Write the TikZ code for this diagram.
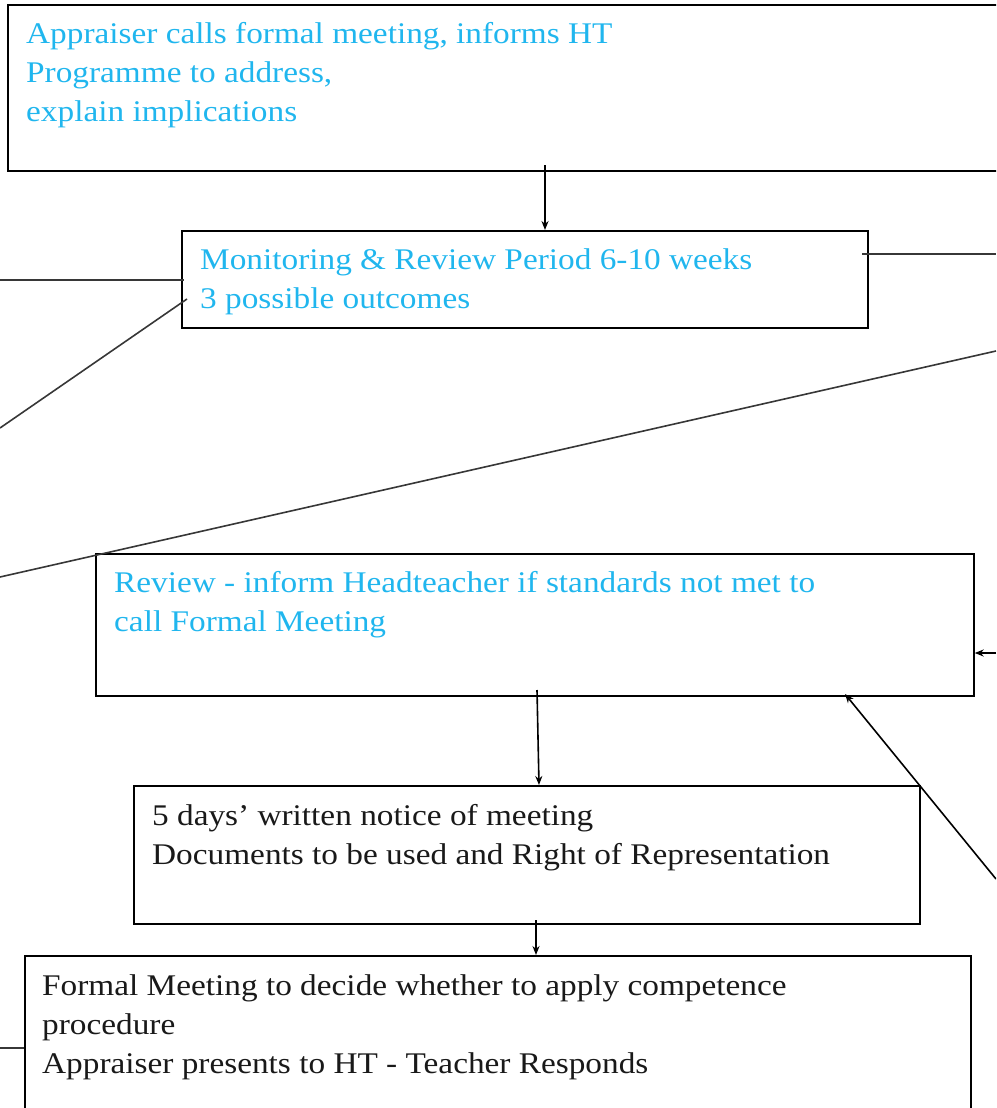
\documentclass[tikz,border=0pt]{standalone}
\usepackage{fontspec}
\setmainfont[FakeStretch=1.11]{Liberation Serif}
\usetikzlibrary{arrows.meta}
\definecolor{bluetxt}{RGB}{32,182,238}
\definecolor{blacktxt}{RGB}{25,25,25}
\definecolor{linegray}{RGB}{55,55,55}
\tikzset{
  box/.style={draw=black, line width=1.7pt, rectangle, inner sep=0pt, anchor=north west},
  txt/.style={inner sep=0pt, anchor=north west, align=left, font=\fontsize{30}{39}\selectfont},
  bluet/.style={txt, text=bluetxt},
  blackt/.style={txt, text=blacktxt},
  conn/.style={draw=linegray, line width=1.6pt},
  arr/.style={conn, draw=black, -{Stealth[length=9pt,width=7pt]}}
}
\begin{document}
\begin{tikzpicture}[x=1pt,y=-1pt]
\clip (0,0) rectangle (996,1108);
% boxes
\node[box, minimum width=1060pt, minimum height=166pt] (b1) at (7,4) {};
\node[box, minimum width=686pt, minimum height=97pt] (b2) at (181,230) {};
\node[box, minimum width=878pt, minimum height=142pt] (b3) at (95,553) {};
\node[box, minimum width=786pt, minimum height=138pt] (b4) at (133,785) {};
\node[box, minimum width=946pt, minimum height=200pt] (b5) at (24,955) {};
% texts
\node[bluet] (t1) at (26,22) {Appraiser calls formal meeting, informs HT\\Programme to address,\\explain implications};
\node[bluet] (t2) at (200,248) {Monitoring \& Review Period 6-10 weeks\\3 possible outcomes};
\node[bluet] (t3) at (114,571) {Review - inform Headteacher if standards not met to\\call Formal Meeting};
\node[blackt] (t4) at (152,804) {5 days’ written notice of meeting\\Documents to be used and Right of Representation};
\node[blackt] (t5) at (42,974) {Formal Meeting to decide whether to apply competence\\procedure\\Appraiser presents to HT - Teacher Responds};
% free ends
\coordinate (c1s) at (545,165);
\coordinate (lA) at (0,280);
\coordinate (lAe) at (184,280);
\coordinate (lB) at (0,428);
\coordinate (lBe) at (187,299);
\coordinate (rA) at (862,254);
\coordinate (rAe) at (996,254);
\coordinate (lgA) at (0,577);
\coordinate (lgB) at (996,351);
\coordinate (rB) at (996,653);
\coordinate (rC) at (996,879);
\coordinate (c3s) at (537,690);
\coordinate (c4s) at (536,920);
\coordinate (lC) at (0,1048);
% connectors
\draw[arr] (c1s) -- (b2.north -| c1s);
\draw[conn] (lA) -- (lAe);
\draw[conn] (lB) -- (lBe);
\draw[conn] (rA) -- (rAe);
\draw[conn] (lgA) -- (lgB);
\draw[arr] (rB) -- (b3.east |- rB);
\draw[arr] (rC) -- (845,694);
\draw[arr] (c3s) -- (539,785);
\draw[arr] (c4s) -- (b5.north -| c4s);
\draw[conn] (lC) -- (b5.west |- lC);
\end{tikzpicture}
\end{document}
